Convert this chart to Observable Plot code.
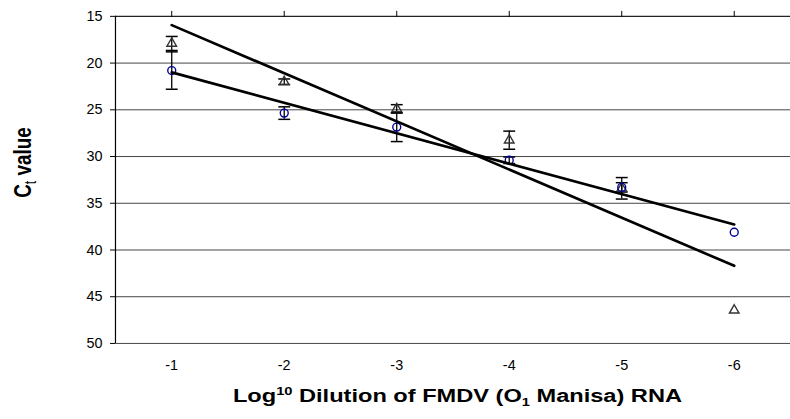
<!DOCTYPE html>
<html>
<head>
<meta charset="utf-8">
<script src="https://cdn.jsdelivr.net/npm/d3@7"></script>
<script src="https://cdn.jsdelivr.net/npm/@observablehq/plot@0.6"></script>
<style>
  html, body { margin: 0; padding: 0; background: #fff; overflow: hidden; width: 790px; height: 419px; }
  #chart svg { display: block; }
</style>
</head>
<body>
<div id="chart"></div>
<script>
// ---- data ----
const dilutions = [-1, -2, -3, -4, -5, -6];
const circleMeans = [20.8, 25.35, 26.85, 30.4, 33.3, 38.1];
const circleErrors = [2.0, 0.67, 1.55, 0.35, 0.5, 0];
const triangleMeans = [17.9, 22.0, 24.9, 28.25, 33.4, 46.45];
const triangleErrors = [0.75, 0.3, 0.45, 0.97, 1.15, 0];
const yTicks = [15, 20, 25, 30, 35, 40, 45, 50];
const xTitle = ["Log", "10", " Dilution of FMDV (O", "1", " Manisa) RNA"];
const yTitle = ["C", "t", " value"];

// ---- tables built from the arrays ----
const circles = dilutions.map((x, i) => ({x, y: circleMeans[i], e: circleErrors[i]}));
const triangles = dilutions.map((x, i) => ({x, y: triangleMeans[i], e: triangleErrors[i]}));
const withErr = [...circles, ...triangles].filter(d => d.e > 0);
const bars = withErr.map(d => ({x: d.x, y1: d.y - d.e, y2: d.y + d.e}));
const caps = withErr.flatMap(d => [{x: d.x, y: d.y - d.e}, {x: d.x, y: d.y + d.e}]);

const capSymbol = {
  draw(context) { context.moveTo(-6, 0); context.lineTo(6, 0); }
};

const xDomain = [dilutions[0] + 0.5, dilutions[dilutions.length - 1] - 0.5];
const yDomain = [yTicks[0], yTicks[yTicks.length - 1]];

const chart = Plot.plot({
  width: 797,
  height: 419,
  marginTop: 16,
  marginBottom: 73,
  marginLeft: 116,
  marginRight: 0,
  style: {fontFamily: "'Liberation Sans', Arial, sans-serif", fontSize: "14px", color: "#000", background: "#fff"},
  x: {domain: xDomain, label: null},
  y: {domain: yDomain, reverse: true, label: null},
  marks: [
    Plot.ruleY(yTicks.slice(1), {stroke: "#444", strokeWidth: 1}),
    Plot.ruleY([yTicks[0]], {stroke: "#222", strokeWidth: 1.4}),
    Plot.ruleX([xDomain[0]], {stroke: "#000", strokeWidth: 1.2}),
    Plot.axisY({ticks: yTicks, tickSize: 5, tickPadding: 8, tickFormat: d => String(d), label: null, fontSize: 14.5}),
    Plot.axisX({anchor: "top", ticks: dilutions, tickSize: 6, tickFormat: () => "", label: null}),
    Plot.axisX({anchor: "bottom", ticks: dilutions, tickSize: 0, tickPadding: 16, tickFormat: d => String(d), label: null, fontSize: 14.5}),
    Plot.ruleX(bars, {x: "x", y1: "y1", y2: "y2", stroke: "#000", strokeWidth: 1.3}),
    Plot.dot(caps, {x: "x", y: "y", symbol: capSymbol, fill: "none", stroke: "#000", strokeWidth: 1.5}),
    Plot.dot(triangles, {x: "x", y: "y", symbol: "triangle", r: 3.6, fill: "none", stroke: "#333", strokeWidth: 1.4}),
    Plot.dot(circles, {x: "x", y: "y", symbol: "circle", r: 4, fill: "none", stroke: "#000099", strokeWidth: 1.4}),
    Plot.linearRegressionY(circles, {x: "x", y: "y", ci: 0, stroke: "#000", strokeWidth: 2.7}),
    Plot.linearRegressionY(triangles, {x: "x", y: "y", ci: 0, stroke: "#000", strokeWidth: 2.7})
  ]
});

document.getElementById("chart").appendChild(chart);

// ---- axis titles with sub/superscripts ----
const svg = d3.select(chart);
const xg = svg.append("g");
const xt = xg.append("text")
  .attr("x", 0).attr("y", 0)
  .attr("text-anchor", "middle")
  .attr("font-family", "'Liberation Sans', Arial, sans-serif")
  .attr("font-weight", "bold").attr("font-size", 18.5).attr("fill", "#000");
xt.append("tspan").text(xTitle[0]);
xt.append("tspan").attr("font-size", 11.5).attr("dy", -7).text(xTitle[1]);
xt.append("tspan").attr("dy", 7).text(xTitle[2]);
xt.append("tspan").attr("font-size", 11.5).attr("dy", 4).text(xTitle[3]);
xt.append("tspan").attr("dy", -4).text(xTitle[4]);
const bw = xt.node().getBBox().width || 1;
const targetW = 453;
xg.attr("transform", `translate(461.5,406) scale(${targetW / bw},1)`);

const yt = svg.append("text")
  .attr("transform", "translate(31,164) scale(1.3,1) rotate(-90)")
  .attr("text-anchor", "middle")
  .attr("font-family", "'Liberation Sans', Arial, sans-serif")
  .attr("font-weight", "bold").attr("font-size", 19).attr("fill", "#000");
yt.append("tspan").text(yTitle[0]);
yt.append("tspan").attr("font-size", 12.5).attr("font-weight", "normal").attr("dy", 4).text(yTitle[1]);
yt.append("tspan").attr("dy", -4).text(yTitle[2]);
</script>
</body>
</html>
